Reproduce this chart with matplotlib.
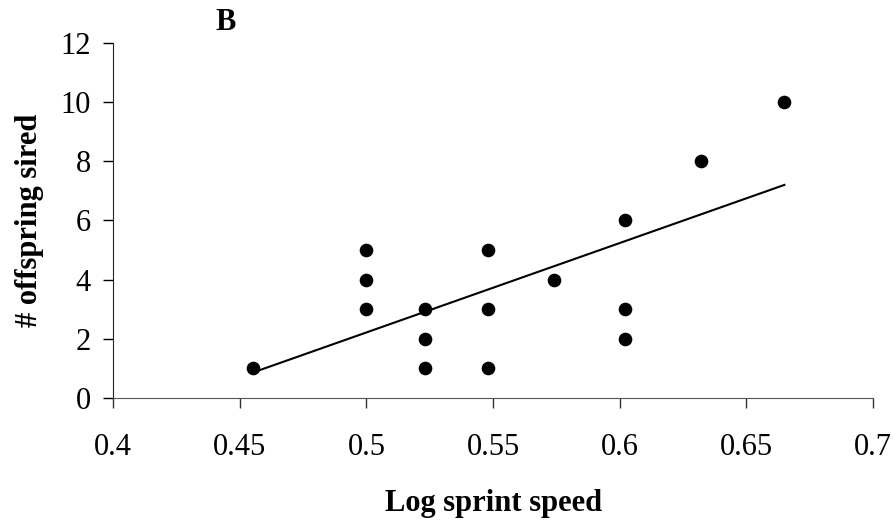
import numpy as np
import matplotlib.pyplot as plt

plt.rcParams["font.family"] = ["Liberation Serif", "DejaVu Serif"]

# log sprint speed vs number of offspring sired
log_speed = [0.455, 0.5, 0.5, 0.5, 0.523, 0.523, 0.523, 0.548, 0.548, 0.548,
             0.574, 0.602, 0.602, 0.602, 0.632, 0.665]
offspring = [1, 5, 4, 3, 3, 2, 1, 5, 3, 1, 4, 6, 3, 2, 8, 10]

x_ticks = [0.4, 0.45, 0.5, 0.55, 0.6, 0.65, 0.7]
x_ticklabels = ["0.4", "0.45", "0.5", "0.55", "0.6", "0.65", "0.7"]
y_ticks = [0, 2, 4, 6, 8, 10, 12]

x = np.array(log_speed)
y = np.array(offspring)
slope, icpt = np.polyfit(x, y, 1)
fit_x = np.array([x.min(), x.max()])

fig = plt.figure(figsize=(8.93, 5.27), dpi=100)
ax = fig.add_axes([0.1268, 0.2448, 0.8508, 0.6736])

ax.plot(x, y, "o", color="black", markersize=8.8, zorder=3)
ax.plot(fit_x, slope * fit_x + icpt, color="black", linewidth=1.5)

ax.set_xlim(0.4, 0.7)
ax.set_ylim(0, 12)
ax.set_xticks(x_ticks)
ax.set_xticklabels(x_ticklabels)
ax.set_yticks(y_ticks)

for s in ["top", "right"]:
    ax.spines[s].set_visible(False)
ax.spines["left"].set_color("#222222")
ax.spines["bottom"].set_color("#555555")
ax.tick_params(axis="x", length=7.5, width=1, pad=18, labelsize=22, color="#333333")
ax.tick_params(axis="y", length=7, width=1, pad=9, labelsize=22)

ax.set_xlabel("Log sprint speed", fontsize=22, fontweight="bold", labelpad=19)
ax.set_ylabel("# offspring sired", fontsize=22, fontweight="bold", labelpad=12)
fig.text(0.253, 0.957, "B", fontsize=22, fontweight="bold", ha="center", va="center")

fig.savefig("out.png", dpi=100)
